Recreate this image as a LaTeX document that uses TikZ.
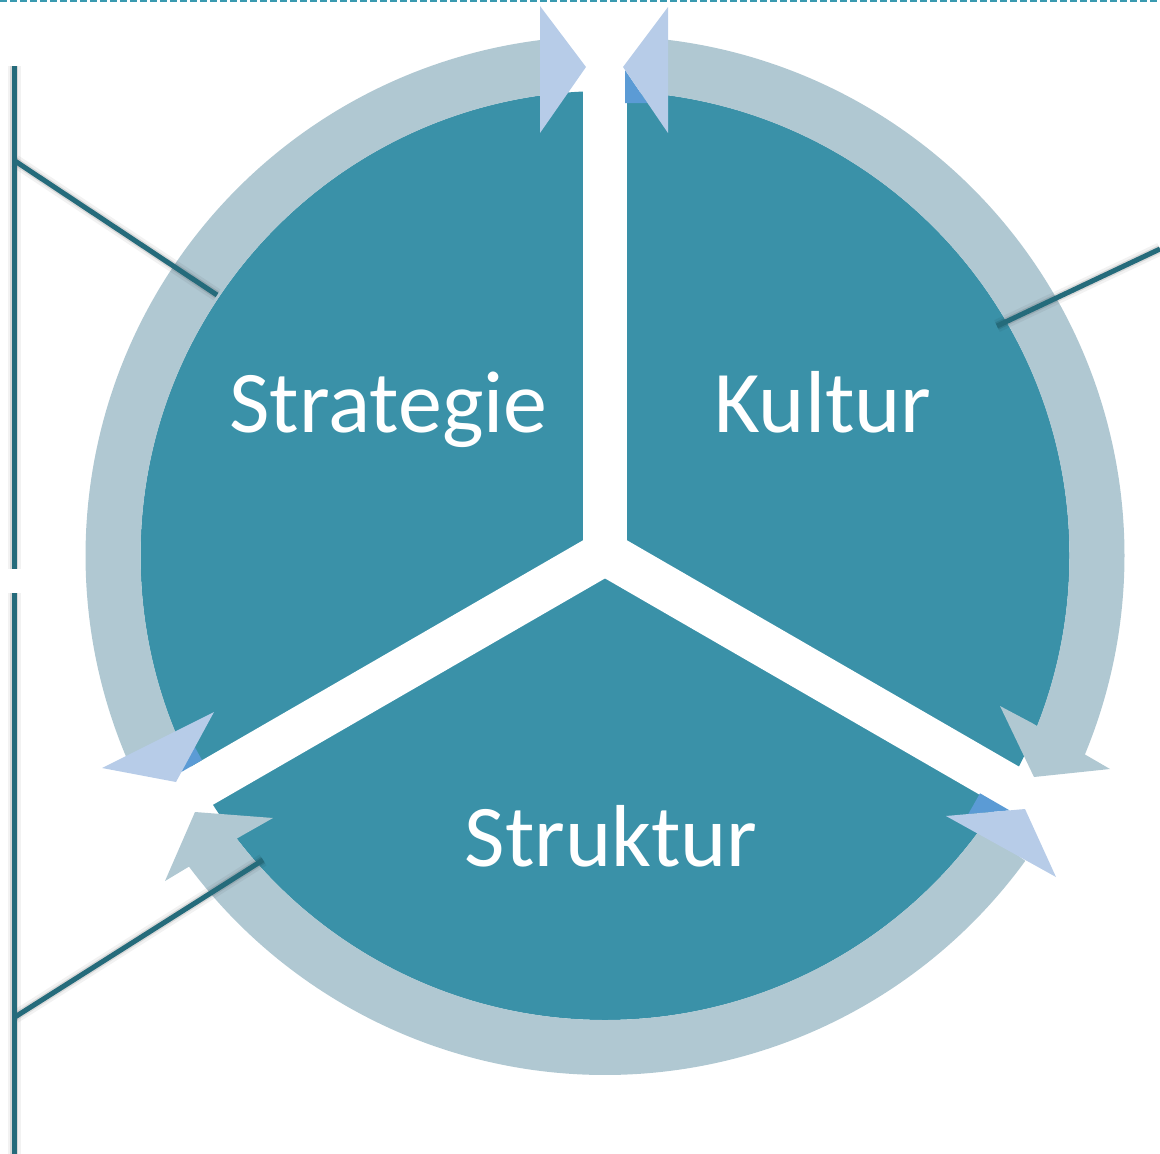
\documentclass[tikz,border=0pt]{standalone}
\usepackage{fontspec}
\setmainfont{Carlito}
\definecolor{pieteal}{HTML}{3A91A8}
\definecolor{ringgray}{HTML}{B0C8D2}
\definecolor{headlight}{HTML}{B7CCE8}
\definecolor{headdark}{HTML}{5B9BD5}
\definecolor{calloutline}{HTML}{256B7B}
\definecolor{topdash}{HTML}{3A9AB0}
\begin{document}
\begin{tikzpicture}[x=1pt,y=1pt,
  piefill/.style={fill=pieteal},
  gapfill/.style={fill=white},
  ringfill/.style={fill=ringgray},
  lighthead/.style={fill=headlight},
  darkhead/.style={fill=headdark},
  callout/.style={draw=calloutline,line width=5pt},
  calloutshadow/.style={draw=black,opacity=0.10,line width=8pt},
  calloutshadowsoft/.style={draw=black,opacity=0.05,line width=13pt},
  label/.style={text=white,font=\fontsize{88}{96}\selectfont,anchor=base,inner sep=0pt}]

\useasboundingbox (0,0) rectangle (1160,-1154);

% dashed rule along the top edge
\draw[topdash,line width=1.5pt,dash pattern=on 7pt off 3pt] (0,-1) -- (1160,-1);

% centres of the circle and of the Y-shaped gap
\coordinate (C) at (605,-555.5);
\coordinate (J) at (605,-553);

% teal disc split into three sectors by white strips
\fill[piefill] (C) circle[radius=464.5];
\begin{scope}[shift={(J)}]
  \fill[gapfill] (0,0) circle[radius=22];
  \fill[gapfill,rotate=90]  (0,-22) rectangle (472,22);
  \fill[gapfill,rotate=210] (0,-22) rectangle (472,22);
  \fill[gapfill,rotate=330] (0,-22) rectangle (472,22);
\end{scope}

% circular arrows of the ring
\begin{scope}[shift={(C)}]
  \fill[ringfill] (83.2:464.5) arc[start angle=83.2,end angle=-23,radius=464.5]
    -- (-23:519.5) arc[start angle=-23,end angle=83.2,radius=519.5] -- cycle;
  \fill[ringfill] (-36:464.5) arc[start angle=-36,end angle=-143.5,radius=464.5]
    -- (-143.5:519.5) arc[start angle=-143.5,end angle=-36,radius=519.5] -- cycle;
  \fill[ringfill] (97:464.5) arc[start angle=97,end angle=202.8,radius=464.5]
    -- (202.8:519.5) arc[start angle=202.8,end angle=97,radius=519.5] -- cycle;
\end{scope}

% arrow tips in the ring colour
\fill[ringfill] (1032,-723) -- (1000,-706) -- (1034,-777) -- (1110,-769) -- (1079,-751) -- cycle;
\fill[ringfill] (243,-835) -- (273,-818) -- (195,-812) -- (165,-881) -- (195,-863) -- cycle;

% darker slivers behind the light tips
\fill[darkhead] (625,-70) -- (625,-103) -- (647.5,-103) -- cycle;
\fill[darkhead] (194.5,-746.5) -- (202,-760) -- (180.5,-772.5) -- cycle;
\fill[darkhead] (980,-793.3) -- (1009.6,-810.4) -- (968.3,-814) -- cycle;

% light arrow tips
\fill[lighthead] (540,-6) -- (586,-67) -- (540,-133) -- cycle;
\fill[lighthead] (668,-7) -- (623,-67) -- (668,-133) -- cycle;
\fill[lighthead] (102,-768) -- (214,-712) -- (176,-782) -- cycle;
\fill[lighthead] (946,-816) -- (1025,-809) -- (1056,-877) -- cycle;

% callout lines
\coordinate (v1top) at (14,-66);
\coordinate (v1bot) at (14,-569);
\coordinate (v2top) at (14,-593);
\coordinate (v2bot) at (14,-1160);
\coordinate (d1a) at (15,-161);
\coordinate (d1b) at (217,-295);
\coordinate (d2a) at (15,-1017);
\coordinate (d2b) at (263,-860);
\coordinate (d3a) at (997,-326);
\coordinate (d3b) at (1160,-249);

\begin{scope}[shift={(4,-4)}]
  \foreach \a/\b in {v1top/v1bot,v2top/v2bot,d1a/d1b,d2a/d2b,d3a/d3b}{
    \draw[calloutshadowsoft] (\a) -- (\b);
    \draw[calloutshadow] (\a) -- (\b);
  }
\end{scope}
\foreach \a/\b in {v1top/v1bot,v2top/v2bot,d1a/d1b,d2a/d2b,d3a/d3b}{
  \draw[callout] (\a) -- (\b);
}

% sector labels
\node[label] (strategie) at (388.5,-432) {Strategie};
\node[label] (kultur) at (823,-432) {Kultur};
\node[label] (struktur) at (611,-866) {Struktur};

\end{tikzpicture}
\end{document}
